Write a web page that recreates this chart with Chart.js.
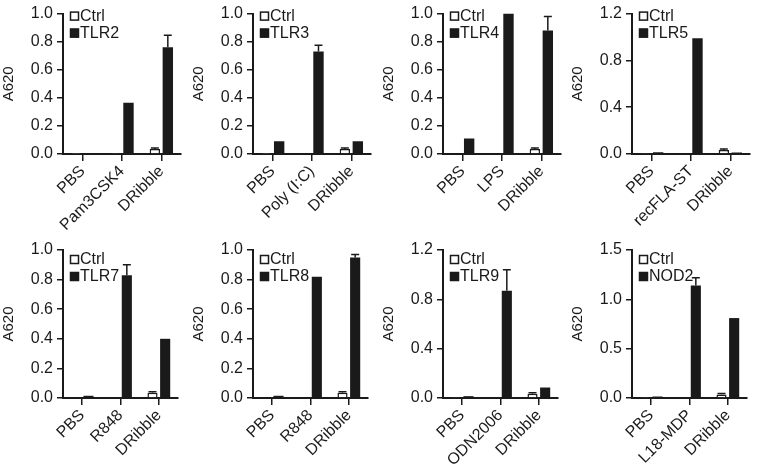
<!DOCTYPE html>
<html>
<head>
<meta charset="utf-8">
<script src="https://cdn.jsdelivr.net/npm/chart.js@4.4.1/dist/chart.umd.min.js"></script>
<style>
  html,body{margin:0;padding:0;background:#fff;overflow:hidden}
  #wrap{position:relative;width:758px;height:470px}
  .pn{position:absolute;width:190px;height:235px}
</style>
</head>
<body>
<div id="wrap"></div>
<script>
// panel data, one entry per panel (row by row)
const panelNames=['TLR2','TLR3','TLR4','TLR5','TLR7','TLR8','TLR9','NOD2'];
const categories=[
  ['PBS','Pam3CSK4','DRibble'],
  ['PBS','Poly (I:C)','DRibble'],
  ['PBS','LPS','DRibble'],
  ['PBS','recFLA-ST','DRibble'],
  ['PBS','R848','DRibble'],
  ['PBS','R848','DRibble'],
  ['PBS','ODN2006','DRibble'],
  ['PBS','L18-MDP','DRibble']
];
const ctrlValues=[
  [0.002,0.008,0.035],[0.002,0.006,0.035],[0.004,0.006,0.035],[0.004,0.007,0.035],
  [0.004,0.006,0.035],[0.004,0.006,0.035],[0.004,0.007,0.035],[0.004,0.008,0.035]
];
const ctrlErrors=[
  [0,0,0.008],[0,0,0.008],[0,0,0.008],[0,0,0.008],
  [0,0,0.008],[0,0,0.008],[0,0,0.008],[0,0,0.01]
];
const stimValues=[
  [0.006,0.365,0.76],[0.09,0.73,0.09],[0.11,1.0,0.88],[0.015,0.99,0.012],
  [0.015,0.83,0.4],[0.015,0.82,0.95],[0.015,0.87,0.085],[0.015,1.14,0.81]
];
const stimErrors=[
  [0,0,0.085],[0,0.045,0],[0,0,0.1],[0,0,0],
  [0,0.07,0],[0,0,0.02],[0,0.17,0],[0,0.08,0]
];
const yMax=[1,1,1,1.2,1,1,1.2,1.5];
const yStep=[0.2,0.2,0.2,0.4,0.2,0.2,0.4,0.5];
const yLabel='A620';
const ctrlLabel='Ctrl';

const INK='#1a1a1a';
const FONT="'Liberation Sans', Arial, Helvetica, sans-serif";
const colLeft=[0,190,380,569];
const rowTop=[0,235];
const rowPadTop=[13,15];
const rowAxisH=[81,72];
const rowPadRight=[9,12];
const rowLegendDy=[2,9];

const errorBars={
  id:'errorBars',
  afterDatasetsDraw(chart){
    const ctx=chart.ctx,y=chart.scales.y;
    chart.data.datasets.forEach((ds,i)=>{
      const meta=chart.getDatasetMeta(i);
      meta.data.forEach((bar,j)=>{
        const e=ds.errors[j];
        if(!e)return;
        const top=y.getPixelForValue(ds.data[j]+e);
        ctx.save();
        ctx.strokeStyle=INK;ctx.lineWidth=1.5;
        ctx.beginPath();
        ctx.moveTo(bar.x,bar.y);ctx.lineTo(bar.x,top);
        ctx.moveTo(bar.x-4,top);ctx.lineTo(bar.x+4,top);
        ctx.stroke();
        ctx.restore();
      });
    });
  }
};

const insideLegend={
  id:'insideLegend',
  afterDraw(chart,args,opts){
    const ctx=chart.ctx,a=chart.chartArea;
    ctx.save();
    ctx.font='16px '+FONT;
    ctx.textBaseline='middle';
    chart.data.datasets.forEach((ds,i)=>{
      const cy=a.top+opts.dy+i*17;
      const bx=a.left+7;
      ctx.fillStyle=ds.backgroundColor;
      ctx.fillRect(bx,cy-4,9,9);
      ctx.strokeStyle=INK;ctx.lineWidth=1.5;
      ctx.strokeRect(bx+0.5,cy-3.5,8,8);
      ctx.fillStyle=INK;
      ctx.fillText(ds.label,bx+10,cy+1);
    });
    ctx.restore();
  }
};

panelNames.forEach((name,i)=>{
  const col=i%4,row=Math.floor(i/4);
  const box=document.createElement('div');
  box.className='pn';
  box.style.left=colLeft[col]+'px';
  box.style.top=rowTop[row]+'px';
  const cv=document.createElement('canvas');
  cv.width=190;cv.height=235;
  box.appendChild(cv);
  document.getElementById('wrap').appendChild(box);

  new Chart(cv.getContext('2d'),{
    type:'bar',
    data:{labels:categories[i],datasets:[
      {label:ctrlLabel,data:ctrlValues[i],errors:ctrlErrors[i],backgroundColor:'#ffffff',borderColor:INK,borderWidth:1.5,barPercentage:0.8,categoryPercentage:0.66},
      {label:name,data:stimValues[i],errors:stimErrors[i],backgroundColor:INK,borderColor:INK,borderWidth:0,barPercentage:0.8,categoryPercentage:0.66}
    ]},
    options:{
      responsive:false,animation:false,
      layout:{padding:{top:rowPadTop[row],right:rowPadRight[row],left:0,bottom:0}},
      plugins:{legend:{display:false},tooltip:{enabled:false},insideLegend:{dy:rowLegendDy[row]}},
      scales:{
        x:{
          offset:true,
          grid:{display:true,drawOnChartArea:false,drawTicks:true,tickLength:7,offset:false,color:INK,lineWidth:1.5},
          border:{display:true,color:INK,width:2},
          ticks:{autoSkip:false,maxRotation:45,minRotation:45,padding:1,color:INK,font:{family:FONT,size:16}},
          afterFit(s){s.height=rowAxisH[row];}
        },
        y:{
          min:0,max:yMax[i],
          grid:{display:true,drawOnChartArea:false,drawTicks:true,tickLength:6,color:INK,lineWidth:1.5},
          border:{display:true,color:INK,width:2},
          ticks:{stepSize:yStep[i],padding:4,color:INK,font:{family:FONT,size:16},callback:v=>v.toFixed(1)},
          title:{display:true,text:yLabel,color:INK,padding:{top:0,bottom:0},font:{family:FONT,size:15}},
          afterFit(s){s.width=63;}
        }
      }
    },
    plugins:[errorBars,insideLegend]
  });
});
</script>
</body>
</html>
